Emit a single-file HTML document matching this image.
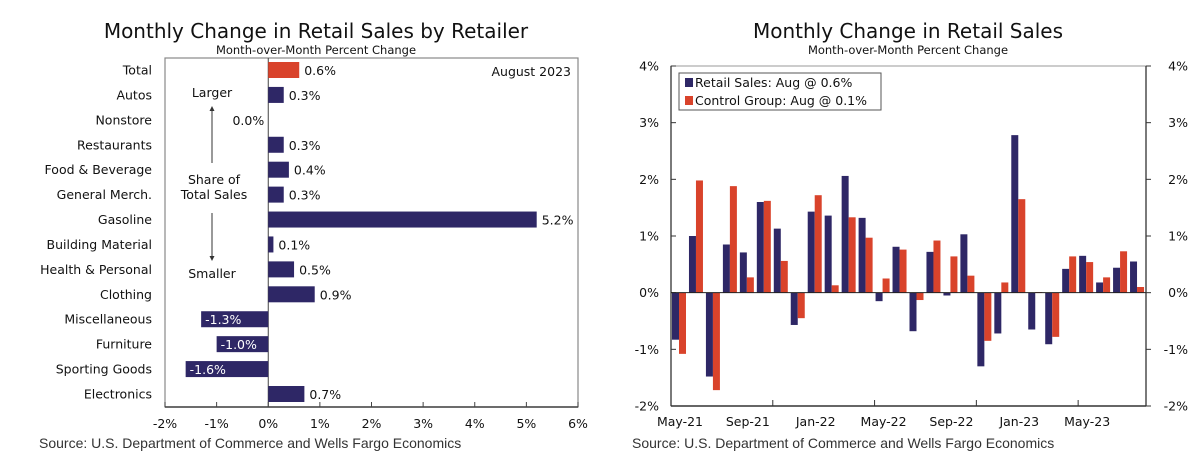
<!DOCTYPE html>
<html><head><meta charset="utf-8"><style>
html,body{margin:0;padding:0;background:#fff;}
svg{display:block;font-family:"DejaVu Sans","Liberation Sans",sans-serif;}
</style></head><body>
<svg width="1200" height="468" viewBox="0 0 1200 468">
<g id="left"></g>
<g id="right"></g>
</svg>
<script>
const NS='http://www.w3.org/2000/svg';
const retailers=['Total','Autos','Nonstore','Restaurants','Food & Beverage','General Merch.','Gasoline','Building Material','Health & Personal','Clothing','Miscellaneous','Furniture','Sporting Goods','Electronics'];
const retailValues=[0.6,0.3,0.0,0.3,0.4,0.3,5.2,0.1,0.5,0.9,-1.3,-1.0,-1.6,0.7];
const leftTicks=[-2,-1,0,1,2,3,4,5,6];
const months=['May-21','Jun-21','Jul-21','Aug-21','Sep-21','Oct-21','Nov-21','Dec-21','Jan-22','Feb-22','Mar-22','Apr-22','May-22','Jun-22','Jul-22','Aug-22','Sep-22','Oct-22','Nov-22','Dec-22','Jan-23','Feb-23','Mar-23','Apr-23','May-23','Jun-23','Jul-23','Aug-23'];
const retailSales=[-0.83,1.0,-1.48,0.85,0.71,1.6,1.13,-0.57,1.43,1.36,2.06,1.32,-0.15,0.81,-0.68,0.72,-0.05,1.03,-1.3,-0.72,2.78,-0.65,-0.91,0.42,0.65,0.18,0.44,0.55];
const controlGroup=[-1.08,1.98,-1.72,1.88,0.27,1.62,0.56,-0.45,1.72,0.13,1.33,0.97,0.25,0.76,-0.13,0.92,0.64,0.3,-0.85,0.18,1.65,0.01,-0.78,0.64,0.54,0.27,0.73,0.1];
const rightTicks=[-2,-1,0,1,2,3,4];
const NAVY='#2e2766',RED='#d9432b';
function el(parent,tag,attrs,text){const e=document.createElementNS(NS,tag);for(const k in attrs)e.setAttribute(k,attrs[k]);if(text!==undefined)e.textContent=text;parent.appendChild(e);return e;}
function pct(v){return v.toFixed(1)+'%';}
const SRC='"Liberation Sans",Arial,sans-serif';

// LEFT
(function(){
const g=document.getElementById('left');
const L=165,R=578,T=58,B=407;
const x=v=>L+(v-(-2))*(R-L)/8;
const y=i=>70+i*(394-70)/(retailers.length-1);
let t=el(g,'text',{x:316,y:38,'font-size':20,'text-anchor':'middle',fill:'#111'},'Monthly Change in Retail Sales by Retailer');

t=el(g,'text',{x:316,y:54,'font-size':11.5,'text-anchor':'middle',fill:'#111'},'Month-over-Month Percent Change');

let f=el(g,'rect',{x:L,y:T,width:R-L,height:B-T,fill:'none',stroke:'#888','stroke-width':1.2});

el(g,'line',{x1:L,y1:B,x2:R,y2:B,stroke:'#444','stroke-width':1.5});
el(g,'line',{x1:x(0),y1:T,x2:x(0),y2:B,stroke:'#444','stroke-width':1});
leftTicks.forEach(v=>{
 el(g,'line',{x1:x(v),y1:B,x2:x(v),y2:B-5,stroke:'#444'});
 const l=el(g,'text',{x:x(v),y:B+21,'font-size':12.5,'text-anchor':'middle',fill:'#111'},v+'%');
 
});
retailers.forEach((n,i)=>{
 const v=retailValues[i];
 const lab=el(g,'text',{x:152,y:y(i)+4.5,'font-size':12.5,'text-anchor':'end',fill:'#111'},n);
 
 const x0=Math.min(x(0),x(v)),w=Math.abs(x(v)-x(0));
 const b=el(g,'rect',{x:x0,y:y(i)-8,width:Math.max(w,v!==0?1:0),height:16,fill:i===0?RED:NAVY});
 
 let vl;
 if(v<0) vl=el(g,'text',{x:x(v)+4,y:y(i)+5,'font-size':12.5,fill:'#fff'},pct(v));
 else if(v===0) vl=el(g,'text',{x:x(0)-4,y:y(i)+5,'font-size':12.5,'text-anchor':'end',fill:'#111'},pct(v));
 else vl=el(g,'text',{x:x(v)+5,y:y(i)+5,'font-size':12.5,fill:'#111'},pct(v));
 
});
t=el(g,'text',{x:571,y:76,'font-size':12.5,'text-anchor':'end',fill:'#111'},'August 2023');

el(g,'text',{x:212,y:97,'font-size':12.5,'text-anchor':'middle',fill:'#111'},'Larger');
el(g,'line',{x1:212,y1:163,x2:212,y2:110,stroke:'#333'});
el(g,'path',{d:'M209.5,111 L212,106 L214.5,111 Z',fill:'#333'});
el(g,'text',{x:214,y:184,'font-size':12.5,'text-anchor':'middle',fill:'#111'},'Share of');
el(g,'text',{x:214,y:199,'font-size':12.5,'text-anchor':'middle',fill:'#111'},'Total Sales');
el(g,'line',{x1:212,y1:213,x2:212,y2:258,stroke:'#333'});
el(g,'path',{d:'M209.5,256 L212,261 L214.5,256 Z',fill:'#333'});
el(g,'text',{x:212,y:278,'font-size':12.5,'text-anchor':'middle',fill:'#111'},'Smaller');
t=el(g,'text',{x:39,y:448,'font-size':14,fill:'#333','font-family':SRC},'Source: U.S. Department of Commerce and Wells Fargo Economics');

})();

// RIGHT
(function(){
const g=document.getElementById('right');
const L=671,R=1146,T=66,B=406;
const y=v=>B-(v-(-2))*(B-T)/6;
const step=(R-L)/months.length;
let t=el(g,'text',{x:908,y:38,'font-size':20,'text-anchor':'middle',fill:'#111'},'Monthly Change in Retail Sales');

t=el(g,'text',{x:908,y:54,'font-size':11.5,'text-anchor':'middle',fill:'#111'},'Month-over-Month Percent Change');

el(g,'rect',{x:L,y:T,width:R-L,height:B-T,fill:'none',stroke:'#999','stroke-width':1});
el(g,'line',{x1:L,y1:T,x2:L,y2:B,stroke:'#333','stroke-width':1.3});
el(g,'line',{x1:R,y1:T,x2:R,y2:B,stroke:'#333','stroke-width':1.3});
el(g,'line',{x1:L,y1:B,x2:R,y2:B,stroke:'#333','stroke-width':1.5});
rightTicks.forEach(v=>{
 el(g,'line',{x1:L,y1:y(v),x2:L+5,y2:y(v),stroke:'#333'});
 el(g,'line',{x1:R,y1:y(v),x2:R+5,y2:y(v),stroke:'#333'});
 let a=el(g,'text',{x:L-12,y:y(v)+4.5,'font-size':12.5,'text-anchor':'end',fill:'#111'},v+'%');
 
 a=el(g,'text',{x:R+42,y:y(v)+4.5,'font-size':12.5,'text-anchor':'end',fill:'#111'},v+'%');
 
});
for(let k=1;k*6<months.length;k++){const xx=L+k*6*step;el(g,'line',{x1:xx,y1:B,x2:xx,y2:B-6,stroke:'#333'});}
months.forEach((m,i)=>{
 if(i%4===0){const l=el(g,'text',{x:L+i*step+9,y:B+20,'font-size':12.5,'text-anchor':'middle',fill:'#111'},m);
 }
 const x0=L+i*step+1;
 const v1=retailSales[i],v2=controlGroup[i];
 const b1=el(g,'rect',{x:x0,y:Math.min(y(0),y(v1)),width:7,height:Math.abs(y(v1)-y(0)),fill:NAVY});
 
 const b2=el(g,'rect',{x:x0+7,y:Math.min(y(0),y(v2)),width:7,height:Math.abs(y(v2)-y(0)),fill:RED});
 
});
el(g,'line',{x1:L,y1:y(0),x2:R,y2:y(0),stroke:'#222','stroke-width':1});
const lg=el(g,'g',{});

el(lg,'rect',{x:679,y:73,width:202,height:37,fill:'#fff',stroke:'#555'});
el(lg,'rect',{x:685,y:78,width:8,height:9,fill:NAVY});
el(lg,'text',{x:695,y:87,'font-size':12.5,fill:'#111'},'Retail Sales: Aug @ 0.6%');
el(lg,'rect',{x:685,y:96,width:8,height:9,fill:RED});
el(lg,'text',{x:695,y:105,'font-size':12.5,fill:'#111'},'Control Group: Aug @ 0.1%');
t=el(g,'text',{x:632,y:448,'font-size':14,fill:'#333','font-family':SRC},'Source: U.S. Department of Commerce and Wells Fargo Economics');

})();
</script>
</body></html>
